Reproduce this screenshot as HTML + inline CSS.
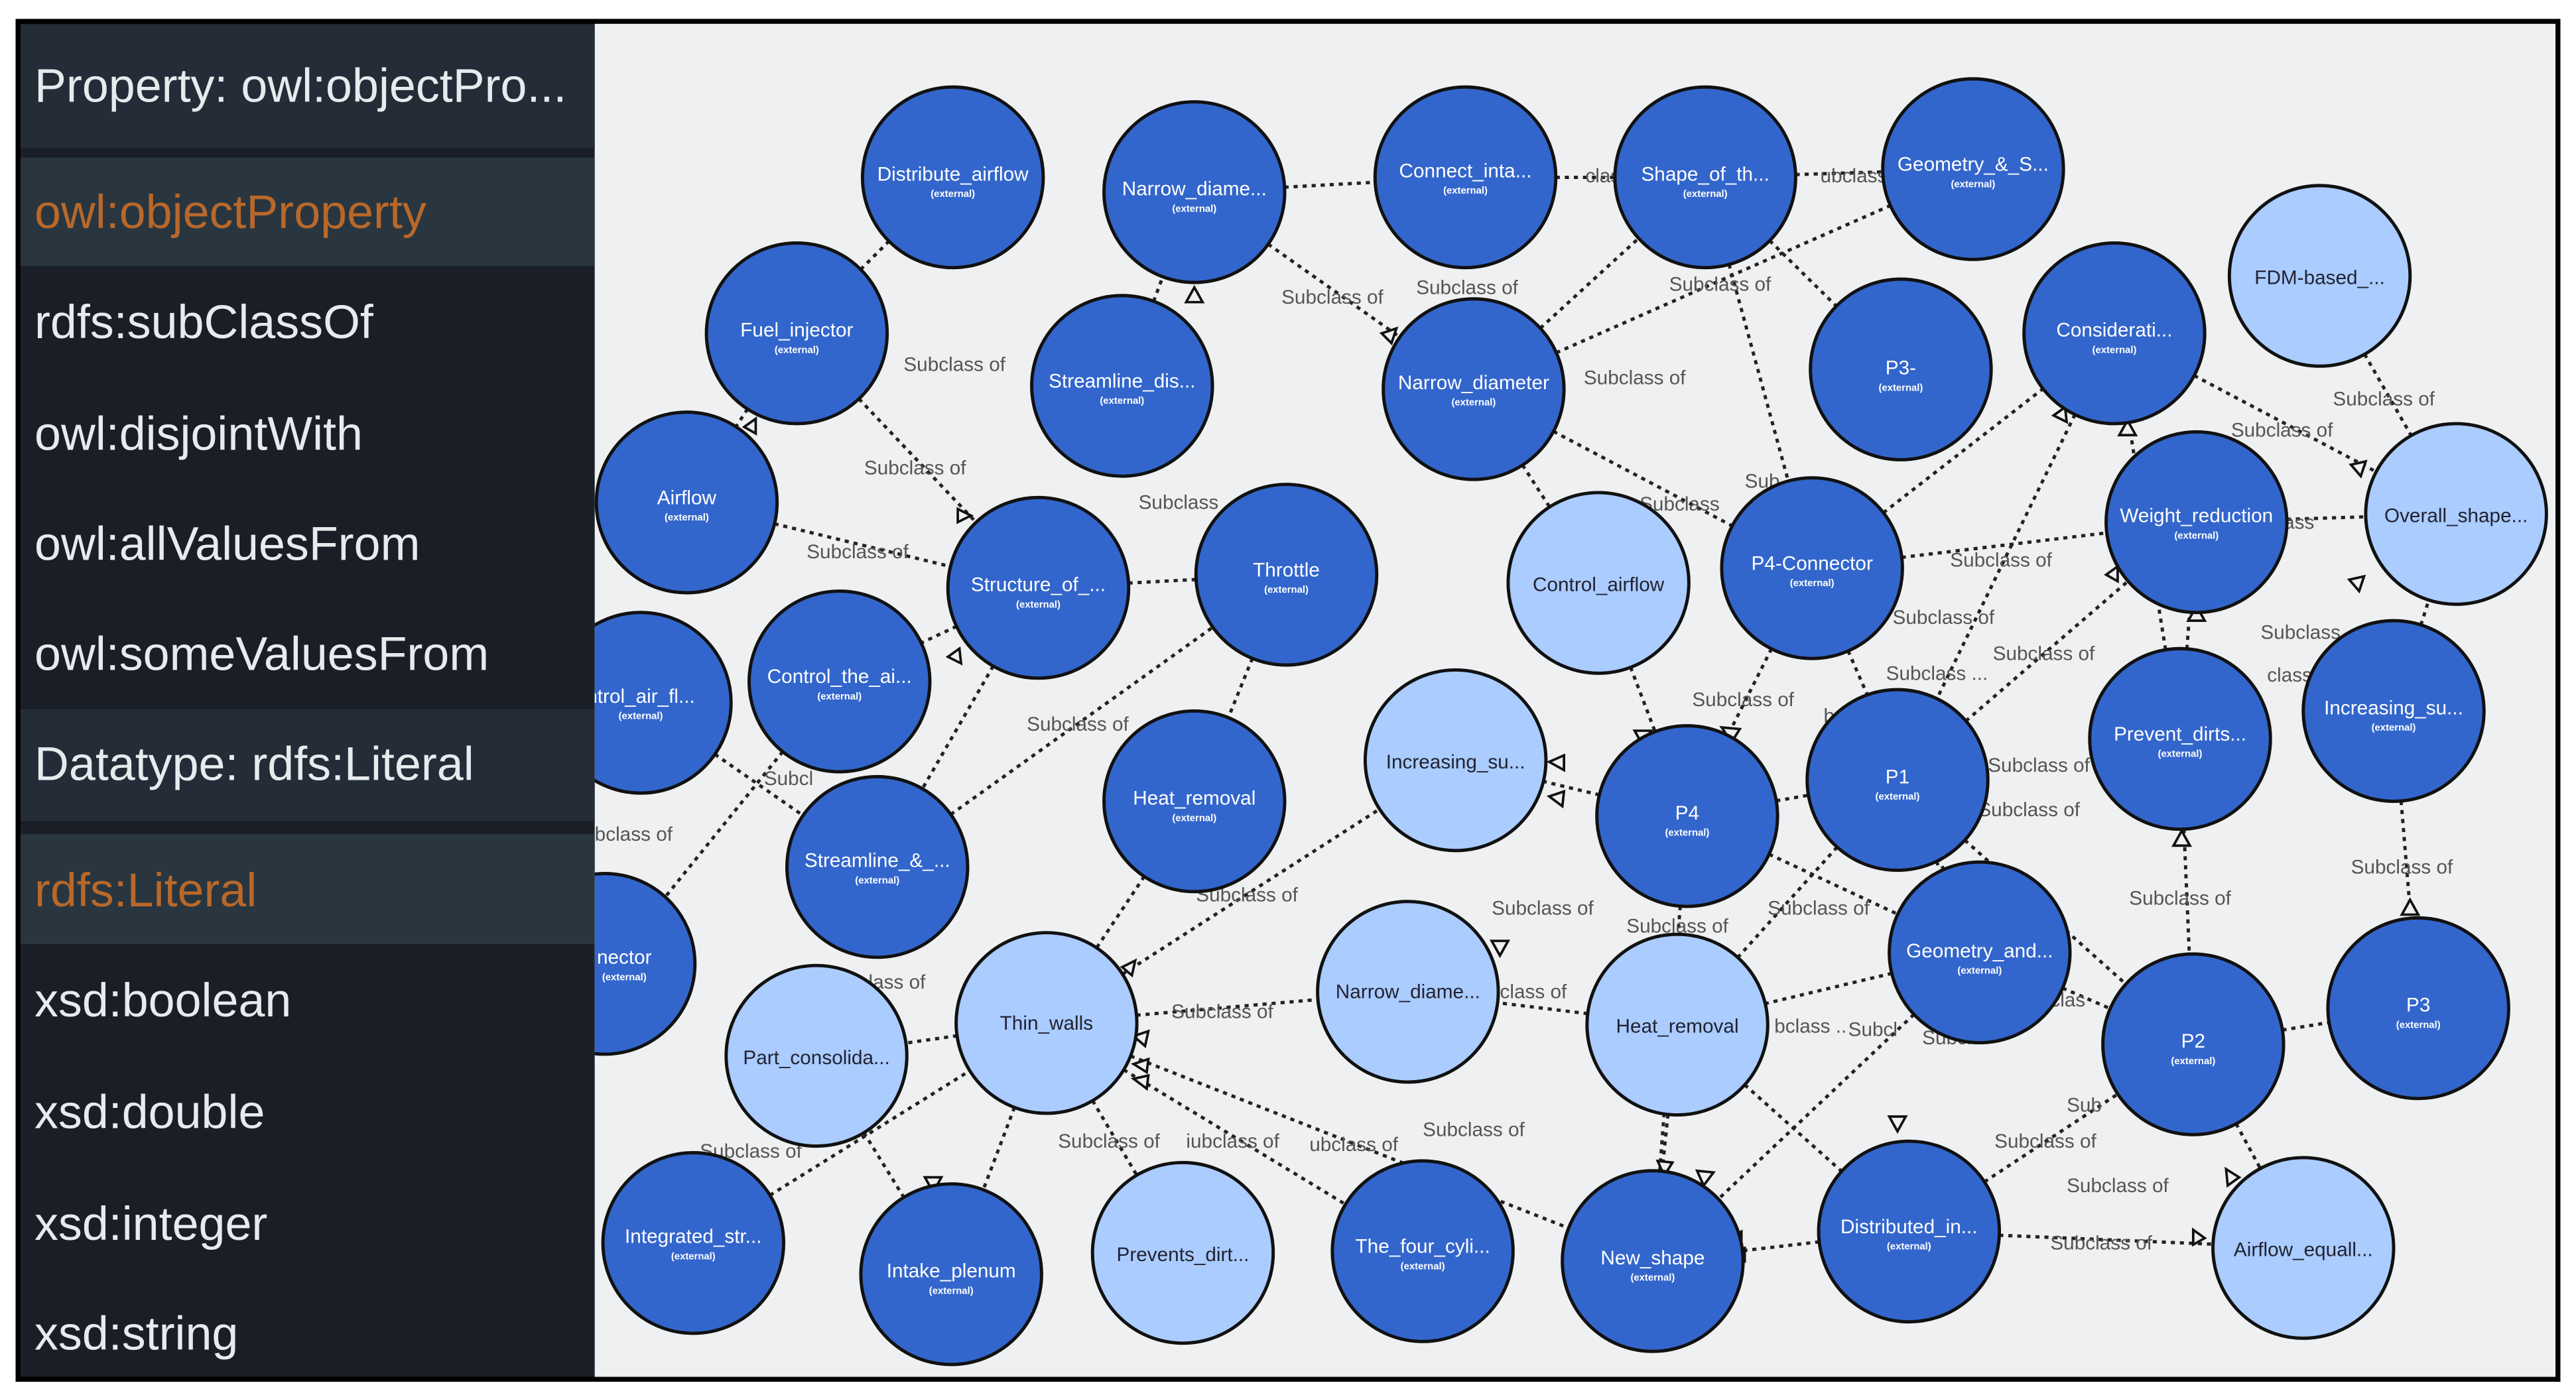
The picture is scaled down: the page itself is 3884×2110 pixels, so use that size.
<!DOCTYPE html>
<html><head><meta charset="utf-8"><style>
html,body{margin:0;padding:0;background:#fff;width:3884px;height:2110px;overflow:hidden}
svg{display:block}
.lp{font-family:"Liberation Sans",sans-serif;font-size:29px;fill:#e8ebee}
.lo{font-family:"Liberation Sans",sans-serif;font-size:29px;fill:#b8682a}
.e{stroke:#222;stroke-width:2;stroke-dasharray:2.5 3;fill:none}
.sl{font-family:"Liberation Sans",sans-serif;font-size:12px;fill:#555}
.d{fill:#3366cc;stroke:#111;stroke-width:2}
.l{fill:#aaccff;stroke:#111;stroke-width:2}
.nt{font-family:"Liberation Sans",sans-serif;font-size:12px;fill:#fff;text-anchor:middle}
.nx{font-family:"Liberation Sans",sans-serif;font-size:6px;fill:#fff;text-anchor:middle;font-weight:bold}
.lt{font-family:"Liberation Sans",sans-serif;font-size:12px;fill:#223;text-anchor:middle}
.ar{fill:#eef0f1;stroke:#111;stroke-width:1.5}
</style></head><body>
<svg width="3884" height="2110" viewBox="0 0 1568 852" preserveAspectRatio="none" xmlns="http://www.w3.org/2000/svg">
<rect x="0" y="0" width="1568" height="852" fill="#fff"/>
<rect x="11" y="13" width="1546" height="827" fill="#1a1f27" stroke="#000" stroke-width="3"/>
<rect x="362" y="14" width="1194" height="825" fill="#eef0f1"/>
<rect x="12" y="15" width="350" height="75" fill="#242d37"/>
<rect x="12" y="96" width="350" height="66" fill="#29363f"/>
<rect x="12" y="432" width="350" height="68" fill="#242d37"/>
<rect x="12" y="508" width="350" height="67" fill="#29363f"/>
<text class="lp" x="21" y="62">Property: owl:objectPro...</text>
<text class="lo" x="21" y="139">owl:objectProperty</text>
<text class="lp" x="21" y="206">rdfs:subClassOf</text>
<text class="lp" x="21" y="274">owl:disjointWith</text>
<text class="lp" x="21" y="341">owl:allValuesFrom</text>
<text class="lp" x="21" y="408">owl:someValuesFrom</text>
<text class="lp" x="21" y="475">Datatype: rdfs:Literal</text>
<text class="lo" x="21" y="552">rdfs:Literal</text>
<text class="lp" x="21" y="619">xsd:boolean</text>
<text class="lp" x="21" y="687">xsd:double</text>
<text class="lp" x="21" y="755">xsd:integer</text>
<text class="lp" x="21" y="822">xsd:string</text>
<defs><clipPath id="g"><rect x="362" y="14" width="1194" height="825"/></clipPath></defs>
<g clip-path="url(#g)">
<g class="e">
<path d="M485 203L580 108M485 203L418 306M485 203L632 358M683 235L727 117M727 117L892 108M727 117L897 237M892 108L1038 108M1038 108L1201 103M897 237L1038 108M897 237L1201 103M897 237L1103 346M897 237L973 355M1038 108L1103 346M1038 108L1157 225M418 306L632 358M632 358L783 350M632 358L534 528M632 358L511 415M783 350L727 488M534 528L783 350M973 355L1027 497M1103 346L1027 497M1103 346L1287 203M1103 346L1337 318M1027 497L886 463M1027 497L1155 475M1155 475L1337 318M1155 475L1335 636M1327 450L1337 318M1327 450L1335 636M1337 318L1495 313M1287 203L1495 313M1412 168L1495 313M1457 433L1495 313M1457 433L1472 614M1335 636L1472 614M1205 580L1335 636M1205 580L1021 624M1021 624L857 604M1021 624L1006 768M637 623L1006 768M637 623L866 762M637 623L720 763M637 623L857 604M637 623L886 463M637 623L497 643M497 643L579 776M637 623L579 776M1162 750L1006 768M1162 750L1402 760M1335 636L1402 760M1162 750L1335 636M390 428L534 528M511 415L372 587M422 757L637 623M1205 580L1006 768M1027 497L1006 768M1155 475L1021 624M1287 203L1155 475M1287 203L1327 450M1021 624L1162 750M727 488L637 623M1205 580L1335 636M1027 497L1205 580M1155 475L1205 580M1103 346L1205 580"/>
</g>
<g class="sl">
<text x="550" y="226">Subclass of</text><text x="526" y="289">Subclass of</text><text x="491" y="340">Subclass of</text>
<text x="780" y="185">Subclass of</text><text x="862" y="179">Subclass of</text><text x="1016" y="177">Subclass of</text>
<text x="964" y="234">Subclass of</text><text x="1420" y="247">Subclass of</text><text x="1358" y="266">Subclass of</text>
<text x="693" y="310">Subclass</text><text x="1187" y="345">Subclass of</text><text x="1152" y="380">Subclass of</text>
<text x="1213" y="402">Subclass of</text><text x="1030" y="430">Subclass of</text><text x="1148" y="414">Subclass ...</text>
<text x="625" y="445">Subclass of</text><text x="1210" y="470">Subclass of</text><text x="1204" y="497">Subclass of</text>
<text x="1431" y="532">Subclass of</text><text x="1296" y="551">Subclass of</text><text x="908" y="557">Subclass of</text>
<text x="1076" y="557">Subclass of</text><text x="990" y="568">Subclass of</text><text x="713" y="620">Subclass of</text>
<text x="728" y="549">Subclass of</text><text x="644" y="699">Subclass of</text><text x="722" y="699">iubclass of</text>
<text x="797" y="701">ubclass of</text><text x="866" y="692">Subclass of</text><text x="1214" y="699">Subclass of</text>
<text x="1258" y="726">Subclass of</text><text x="1248" y="761">Subclass of</text><text x="426" y="705">Subclass of</text>
<text x="362" y="512">bclass of</text><text x="516" y="602">bclass of</text><text x="1376" y="389">Subclass</text>
<text x="998" y="311">Subclass</text><text x="465" y="478">Subcl</text><text x="913" y="608">class of</text>
<text x="1368" y="322">ubclass</text><text x="1110" y="440">bcla</text><text x="1125" y="631">Subcl</text>
<text x="1080" y="629">bclass ..</text><text x="1238" y="589">s of</text><text x="1380" y="415">class</text>
<text x="1062" y="297">Sub</text><text x="965" y="111">clas</text><text x="1108" y="111">ubclass</text>
<text x="1170" y="636">Subcl</text><text x="1248" y="613">clas</text><text x="1258" y="677">Sub</text>
</g>
<g class="ar">
<path d="M722 184l5-9 5 9z"/><path d="M841 203l9-3-3 9z"/><path d="M995 445l5 9 5-9z"/><path d="M1048 443l6 9 5-8z"/>
<path d="M952 460l-9 4 9 5z"/><path d="M952 482l-9 3 8 6z"/><path d="M1437 290l3-9-9 2z"/><path d="M1436 360l3-9-9 2z"/>
<path d="M1332 378l5-9 5 9z"/><path d="M1323 515l5-9 5 9z"/><path d="M1290 265l5-9 5 9z"/><path d="M1462 557l5-9 5 9z"/>
<path d="M699 628l-9 3 7 6z"/><path d="M699 645l-9 3 8 5z"/><path d="M699 655l-9 2 8 6z"/><path d="M691 585l-8 4 6 5z"/>
<path d="M563 717l5 9 5-9z"/><path d="M1060 750l-9 4 9 5z"/><path d="M1062 760l-9 3 9 5z"/><path d="M1335 749l7 5-7 4z"/>
<path d="M1355 712l8 5-7 5z"/><path d="M1009 707l4 9 5-8z"/><path d="M1033 713l4 9 6-8z"/><path d="M1282 350l7-5 0 9z"/>
<path d="M1250 253l7-5 1 9z"/><path d="M453 260l7-5 0 9z"/><path d="M583 310l8 4-8 4z"/><path d="M577 400l7-5 1 9z"/>
<path d="M908 573l5 9 5-9z"/><path d="M1150 680l5 9 5-9z"/>
</g>
<circle class="d" cx="580" cy="108" r="55"/><text class="nt" x="580" y="110">Distribute_airflow</text><text class="nx" x="580" y="120">(external)</text>
<circle class="d" cx="727" cy="117" r="55"/><text class="nt" x="727" y="119">Narrow_diame...</text><text class="nx" x="727" y="129">(external)</text>
<circle class="d" cx="892" cy="108" r="55"/><text class="nt" x="892" y="108">Connect_inta...</text><text class="nx" x="892" y="118">(external)</text>
<circle class="d" cx="1038" cy="108" r="55"/><text class="nt" x="1038" y="110">Shape_of_th...</text><text class="nx" x="1038" y="120">(external)</text>
<circle class="d" cx="1201" cy="103" r="55"/><text class="nt" x="1201" y="104">Geometry_&amp;_S...</text><text class="nx" x="1201" y="114">(external)</text>
<circle class="l" cx="1412" cy="168" r="55"/><text class="lt" x="1412" y="173">FDM-based_...</text>
<circle class="d" cx="485" cy="203" r="55"/><text class="nt" x="485" y="205">Fuel_injector</text><text class="nx" x="485" y="215">(external)</text>
<circle class="d" cx="683" cy="235" r="55"/><text class="nt" x="683" y="236">Streamline_dis...</text><text class="nx" x="683" y="246">(external)</text>
<circle class="d" cx="897" cy="237" r="55"/><text class="nt" x="897" y="237">Narrow_diameter</text><text class="nx" x="897" y="247">(external)</text>
<circle class="d" cx="1157" cy="225" r="55"/><text class="nt" x="1157" y="228">P3-</text><text class="nx" x="1157" y="238">(external)</text>
<circle class="d" cx="1287" cy="203" r="55"/><text class="nt" x="1287" y="205">Considerati...</text><text class="nx" x="1287" y="215">(external)</text>
<circle class="d" cx="418" cy="306" r="55"/><text class="nt" x="418" y="307">Airflow</text><text class="nx" x="418" y="317">(external)</text>
<circle class="d" cx="632" cy="358" r="55"/><text class="nt" x="632" y="360">Structure_of_...</text><text class="nx" x="632" y="370">(external)</text>
<circle class="d" cx="783" cy="350" r="55"/><text class="nt" x="783" y="351">Throttle</text><text class="nx" x="783" y="361">(external)</text>
<circle class="l" cx="973" cy="355" r="55"/><text class="lt" x="973" y="360">Control_airflow</text>
<circle class="d" cx="1103" cy="346" r="55"/><text class="nt" x="1103" y="347">P4-Connector</text><text class="nx" x="1103" y="357">(external)</text>
<circle class="d" cx="1337" cy="318" r="55"/><text class="nt" x="1337" y="318">Weight_reduction</text><text class="nx" x="1337" y="328">(external)</text>
<circle class="l" cx="1495" cy="313" r="55"/><text class="lt" x="1495" y="318">Overall_shape...</text>
<circle class="d" cx="390" cy="428" r="55"/><text class="nt" x="390" y="428">ntrol_air_fl...</text><text class="nx" x="390" y="438">(external)</text>
<circle class="d" cx="511" cy="415" r="55"/><text class="nt" x="511" y="416">Control_the_ai...</text><text class="nx" x="511" y="426">(external)</text>
<circle class="l" cx="886" cy="463" r="55"/><text class="lt" x="886" y="468">Increasing_su...</text>
<circle class="d" cx="1027" cy="497" r="55"/><text class="nt" x="1027" y="499">P4</text><text class="nx" x="1027" y="509">(external)</text>
<circle class="d" cx="1155" cy="475" r="55"/><text class="nt" x="1155" y="477">P1</text><text class="nx" x="1155" y="487">(external)</text>
<circle class="d" cx="1327" cy="450" r="55"/><text class="nt" x="1327" y="451">Prevent_dirts...</text><text class="nx" x="1327" y="461">(external)</text>
<circle class="d" cx="1457" cy="433" r="55"/><text class="nt" x="1457" y="435">Increasing_su...</text><text class="nx" x="1457" y="445">(external)</text>
<circle class="d" cx="727" cy="488" r="55"/><text class="nt" x="727" y="490">Heat_removal</text><text class="nx" x="727" y="500">(external)</text>
<circle class="d" cx="534" cy="528" r="55"/><text class="nt" x="534" y="528">Streamline_&amp;_...</text><text class="nx" x="534" y="538">(external)</text>
<circle class="d" cx="368" cy="587" r="55"/><text class="nt" x="380" y="587">nector</text><text class="nx" x="380" y="597">(external)</text>
<circle class="l" cx="497" cy="643" r="55"/><text class="lt" x="497" y="648">Part_consolida...</text>
<circle class="l" cx="637" cy="623" r="55"/><text class="lt" x="637" y="627">Thin_walls</text>
<circle class="l" cx="857" cy="604" r="55"/><text class="lt" x="857" y="608">Narrow_diame...</text>
<circle class="l" cx="1021" cy="624" r="55"/><text class="lt" x="1021" y="629">Heat_removal</text>
<circle class="d" cx="1205" cy="580" r="55"/><text class="nt" x="1205" y="583">Geometry_and...</text><text class="nx" x="1205" y="593">(external)</text>
<circle class="d" cx="1335" cy="636" r="55"/><text class="nt" x="1335" y="638">P2</text><text class="nx" x="1335" y="648">(external)</text>
<circle class="d" cx="1472" cy="614" r="55"/><text class="nt" x="1472" y="616">P3</text><text class="nx" x="1472" y="626">(external)</text>
<circle class="d" cx="422" cy="757" r="55"/><text class="nt" x="422" y="757">Integrated_str...</text><text class="nx" x="422" y="767">(external)</text>
<circle class="d" cx="579" cy="776" r="55"/><text class="nt" x="579" y="778">Intake_plenum</text><text class="nx" x="579" y="788">(external)</text>
<circle class="l" cx="720" cy="763" r="55"/><text class="lt" x="720" y="768">Prevents_dirt...</text>
<circle class="d" cx="866" cy="762" r="55"/><text class="nt" x="866" y="763">The_four_cyli...</text><text class="nx" x="866" y="773">(external)</text>
<circle class="d" cx="1006" cy="768" r="55"/><text class="nt" x="1006" y="770">New_shape</text><text class="nx" x="1006" y="780">(external)</text>
<circle class="d" cx="1162" cy="750" r="55"/><text class="nt" x="1162" y="751">Distributed_in...</text><text class="nx" x="1162" y="761">(external)</text>
<circle class="l" cx="1402" cy="760" r="55"/><text class="lt" x="1402" y="765">Airflow_equall...</text>
</g>
<rect x="11" y="13" width="1546" height="827" fill="none" stroke="#000" stroke-width="3"/>
</svg>
</body></html>
